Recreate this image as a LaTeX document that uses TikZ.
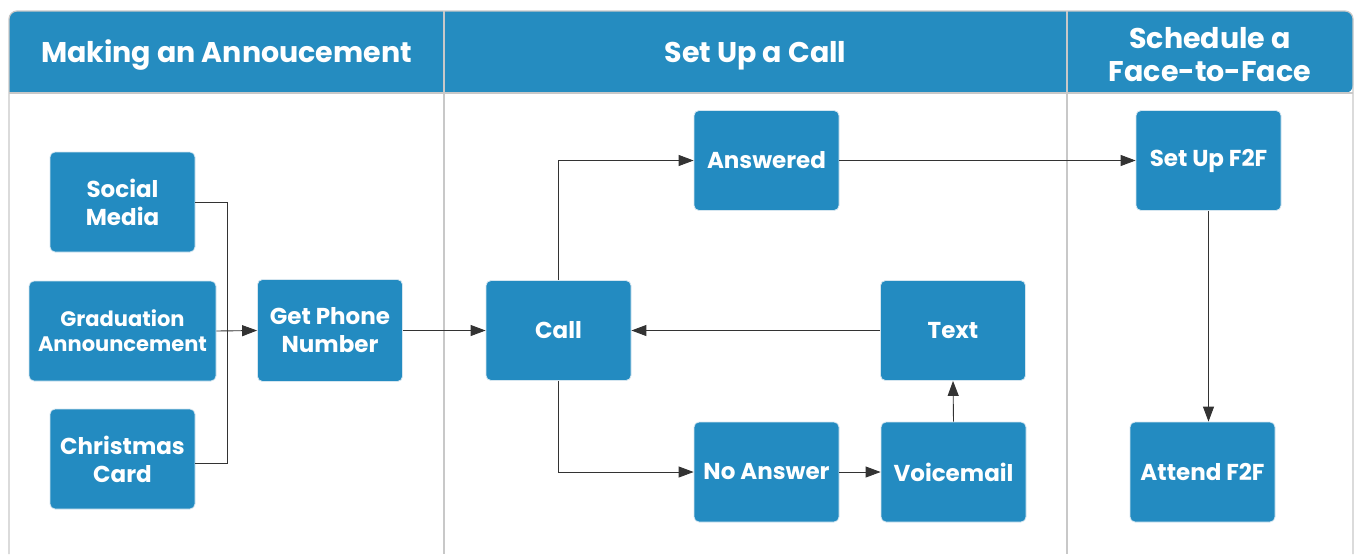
\documentclass[tikz,border=0pt]{standalone}
\usepackage{fontspec}
\setmainfont{Poppins}
\usetikzlibrary{arrows.meta}
\definecolor{hdrblue}{HTML}{258CC0}
\definecolor{boxblue}{HTML}{238BC1}
\definecolor{frame}{HTML}{C8C8C8}
\definecolor{boxedge}{HTML}{D5E6F0}
\definecolor{conn}{HTML}{333333}
\tikzset{
  box/.style={draw=boxedge, line width=0.8pt, fill=boxblue, rounded corners=5pt,
    text=white, font=\fontsize{23}{28}\selectfont\bfseries, align=center,
    minimum width=145pt, minimum height=100pt, inner sep=2pt},
  hdr/.style={text=white, font=\fontsize{28.5}{33}\selectfont\bfseries, align=center},
  link/.style={draw=conn, line width=0.9pt},
  arr/.style={link, -{Triangle[length=15pt,width=11pt]}},
}
\begin{document}
\begin{tikzpicture}[x=1pt,y=-1pt]
\useasboundingbox (0,0) rectangle (1356,554);
% header band
\fill[hdrblue, rounded corners=8pt] (9,93) -- (9,11) -- (1353,11) -- (1353,93) [sharp corners] -- cycle;
\draw[frame, line width=1.2pt, rounded corners=8pt] (9,554) -- (9,11) -- (1353,11) -- (1353,554);
\draw[frame, line width=1.2pt] (9,93) -- (1353,93);
\draw[frame, line width=1.2pt] (444,11) -- (444,554);
\draw[frame, line width=1.2pt] (1067,11) -- (1067,554);
% headers
\node[hdr] (h1) at (226.5,55.5) {Making an Annoucement};
\node[hdr] (h2) at (755.5,55.5) {Set Up a Call};
\node[hdr] (h3) at (1210,54.5) {Schedule a\\Face-to-Face};
% boxes
\node[box] (social) at (122.5,202) {Social\\Media};
\node[box, minimum width=187pt, font=\fontsize{21}{25}\selectfont\bfseries] (grad) at (122.5,331) {Graduation\\Announcement};
\node[box] (xmas) at (122.5,459) {Christmas\\Card};
\node[box, minimum height=102pt] (phone) at (330,330.5) {Get Phone\\Number};
\node[box] (call) at (558.5,330.5) {Call};
\node[box] (answered) at (766.5,160.5) {Answered};
\node[box] (text) at (953,330.5) {Text};
\node[box] (noans) at (766.5,472) {No Answer};
\node[box] (voice) at (953.5,472) {Voicemail};
\node[box] (setup) at (1208.5,160.5) {Set Up F2F};
\node[box] (attend) at (1202.5,472) {Attend F2F};
% connectors
\coordinate (j) at (227,331);
\draw[link] (social.east) -| (j);
\draw[link] ([yshift=-4pt]xmas.east) -| (j);
\draw[arr] (grad.east) -- (phone.west);
\draw[arr] (phone.east) -- (call.west);
\draw[arr] (call.north) |- (answered.west);
\draw[arr] (answered.east) -- (setup.west);
\draw[arr] (call.south) |- (noans.west);
\draw[arr] (noans.east) -- (voice.west);
\draw[arr] (voice.north) -- (text.south);
\draw[arr] (text.west) -- (call.east);
\draw[arr] (setup.south) -- (setup.south |- attend.north);
\end{tikzpicture}
\end{document}
